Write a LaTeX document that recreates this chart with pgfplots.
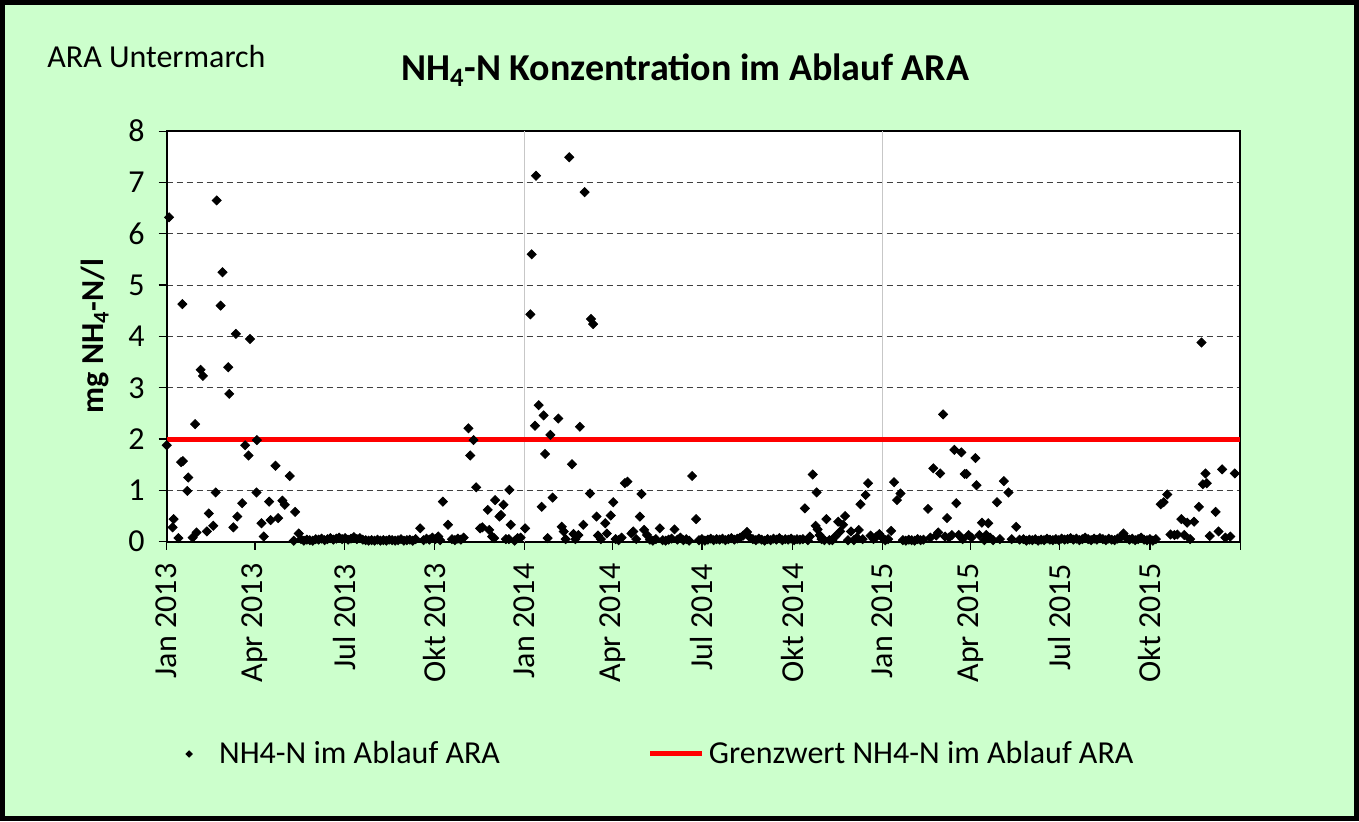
\documentclass[border=0pt]{standalone}
\usepackage{fontspec}
\setmainfont{Carlito}
\usepackage{pgfplots}
\pgfplotsset{compat=1.18}
\definecolor{bg}{HTML}{CCFFCC}
\pgfplotsset{redleg/.style={legend image code/.code={\draw[##1] (0pt,0pt) -- (26pt,0pt);}},
  scatleg/.style={legend image code/.code={\draw[##1, mark size=1.1pt] plot coordinates {(0pt,0pt)}; \path[draw=none] (0pt,0pt) -- (13pt,0pt);}}}
\pgfplotstableread{
day val
0 1.88
2.4 6.32
6 0.28
7 0.44
12 0.07
14.6 1.55
16 4.63
16.5 1.57
21 0.99
22 1.25
26.5 0.08
29 2.29
30.5 0.18
34.6 3.35
37 3.23
41 0.20
43 0.55
47.5 0.31
50 0.96
51 6.65
55 4.60
57 5.25
62.8 3.40
63.8 2.88
68 0.28
70.6 4.05
72 0.49
77 0.75
80 1.88
83.5 1.68
85 3.95
91.6 0.96
92 1.98
96.7 0.36
99 0.10
104.5 0.78
106 0.42
111 1.48
113.7 0.46
118 0.80
120.5 0.72
125.5 1.28
129.6 0.02
131 0.58
134.7 0.16
137 0.05
140 0.02
143 0.04
146 0.03
149 0.02
152 0.05
155 0.04
158 0.06
161 0.03
164 0.05
167 0.07
170 0.04
173 0.06
176 0.08
179 0.05
182 0.07
185 0.04
188 0.06
191 0.09
194 0.05
197 0.07
200 0.04
203 0.03
206 0.02
209 0.03
212 0.02
215 0.04
218 0.02
221 0.03
224 0.02
227 0.04
230 0.03
233 0.02
236 0.03
239 0.05
242 0.02
245 0.03
248 0.04
251 0.02
254 0.05
258.6 0.26
262 0.03
265 0.06
268 0.04
271 0.08
274 0.05
277 0.10
279 0.03
281.7 0.78
287 0.33
291 0.05
294 0.03
297 0.06
300 0.04
303 0.08
307.8 2.21
309.6 1.68
313 1.98
315.7 1.06
319.8 0.26
322 0.28
327.5 0.62
329 0.23
332 0.10
334 0.07
335 0.81
339.4 0.49
341 0.52
343.5 0.72
346 0.05
349 0.05
349.6 1.01
351 0.33
355 0.02
358 0.07
361 0.08
365.6 0.26
371 4.43
372.3 5.60
375.7 2.26
376.8 7.13
379.5 2.66
382.5 0.68
384.5 2.46
386 1.71
388.6 0.07
391.4 2.08
393.7 0.86
399.5 2.40
403 0.29
405 0.20
407 0.05
410.7 7.49
413.4 1.51
415 0.15
417 0.05
420 0.13
421.5 2.24
425 0.33
426.3 6.81
431.8 0.94
432.8 4.34
435 4.24
438.5 0.49
440 0.12
443 0.05
447.4 0.36
449 0.16
453 0.51
455.5 0.77
458 0.05
461 0.03
464 0.08
467.4 1.14
470 1.17
474 0.16
476 0.20
479 0.05
482.7 0.49
484.3 0.93
487 0.23
490 0.13
493 0.04
496 0.02
499 0.05
503 0.26
506 0.03
509 0.02
512 0.04
515 0.06
518 0.24
521 0.04
524 0.08
527 0.03
530 0.05
533 0.02
536 1.28
540 0.44
543 0.03
546 0.05
549 0.02
552 0.04
555 0.06
558 0.03
561 0.05
564 0.04
567 0.06
570 0.03
573 0.05
576 0.07
579 0.04
582 0.06
585 0.08
588 0.12
592 0.19
595 0.08
598 0.05
601 0.03
604 0.06
607 0.04
610 0.02
613 0.05
616 0.03
619 0.06
622 0.04
625 0.07
628 0.03
631 0.05
634 0.04
637 0.06
640 0.03
643 0.05
646 0.04
649 0.05
651 0.65
654 0.03
656 0.10
659 1.31
662 0.31
663 0.96
664 0.24
666 0.13
668 0.05
671 0.03
673 0.44
676 0.03
679 0.03
682 0.10
685 0.39
687 0.20
690 0.33
692 0.50
695 0.03
698 0.20
701 0.03
704 0.08
706 0.23
707.7 0.73
710 0.05
713 0.91
715.5 1.14
718 0.12
721 0.05
724 0.10
727 0.15
730 0.08
733 0.03
736 0.05
739 0.21
742 1.16
745 0.81
748.5 0.94
751 0.03
754 0.02
757 0.04
760 0.03
763 0.02
766 0.05
769 0.03
772 0.04
776.6 0.64
779 0.08
782 1.43
785 0.12
787 0.18
789 1.33
792 2.48
794 0.10
796 0.46
798 0.08
801 0.13
803.5 1.79
805.5 0.75
808 0.13
810.6 1.74
812 0.05
814 1.32
816 1.32
818 0.13
821 0.08
825 1.63
826 1.10
829 0.13
831.6 0.37
834 0.03
836 0.13
838 0.36
840 0.08
843 0.03
847 0.77
850 0.05
854 1.18
858.7 0.96
862 0.05
866.6 0.29
870 0.04
874 0.05
877 0.02
880 0.04
883 0.03
886 0.05
889 0.02
892 0.04
895 0.03
898 0.06
901 0.04
904 0.03
907 0.05
910 0.03
913 0.06
916 0.04
919 0.05
922 0.07
925 0.04
928 0.06
931 0.03
934 0.05
937 0.08
940 0.05
943 0.03
946 0.06
949 0.04
952 0.07
955 0.05
958 0.03
961 0.06
964 0.04
967 0.03
970 0.06
973 0.08
976 0.16
979 0.07
982 0.04
985 0.06
988 0.03
991 0.05
994 0.08
997 0.04
1000 0.03
1003 0.05
1006 0.02
1009 0.05
1014 0.73
1017 0.77
1020.7 0.92
1024 0.14
1028 0.13
1031 0.14
1035 0.44
1038 0.13
1041 0.37
1044 0.05
1048 0.39
1053 0.68
1055.6 3.88
1057 1.12
1059.7 1.33
1061 1.14
1064 0.11
1070 0.58
1073 0.20
1076.7 1.41
1080 0.08
1085 0.10
1089.6 1.33
}\nhdata
\begin{document}
\begin{tikzpicture}[x=1pt,y=1pt]
\fill[bg] (0,0) rectangle (679.5,410.5);
\draw[line width=2.5pt] (1.25,1.25) rectangle (678.25,409.25);
\begin{axis}[
  at={(83.35pt,139.65pt)}, anchor=south west,
  scale only axis, width=536.7pt, height=205.3pt,
  xmin=0, xmax=1095, ymin=0, ymax=8,
  clip=false,
  axis background/.style={fill=white},
  axis line style={black, line width=1pt},
  tick align=outside, major tick length=4pt,
  xtick pos=bottom, ytick pos=left,
  tick style={black, line width=0.6pt},
  xtick={0,90,181,273,365,455,546,638,730,820,911,1003,1095},
  xticklabels={Jan 2013,Apr 2013,Jul 2013,Okt 2013,Jan 2014,Apr 2014,Jul 2014,Okt 2014,Jan 2015,Apr 2015,Jul 2015,Okt 2015,},
  x tick label style={rotate=90, anchor=east, font=\fontsize{16}{16}\selectfont},
  xticklabel shift=3.5pt,
  ytick={0,1,...,8},
  y tick label style={font=\fontsize{16}{16}\selectfont},
  yticklabel shift=3.5pt,
  /pgf/number format/assume math mode=true,
  ymajorgrids,
  major grid style={densely dashed, black!75, line width=0.5pt},
  extra x ticks={365,730},
  extra x tick labels={},
  extra x tick style={grid=major, major grid style={solid, black!22, line width=0.8pt}},
  legend style={at={(0.012,-0.517)}, anchor=west, draw=none, fill=none,
    font=\fontsize{16}{16}\selectfont,
    /tikz/every even column/.append style={column sep=72pt}},
  legend columns=2,
  legend cell align=left,
]
\addplot[red, line width=2.5pt, no marks, forget plot] coordinates {(0,2) (1095,2)};
\addplot[only marks, mark=square*, mark size=1.6pt, black,
  mark options={rotate=45, fill=black}, scatleg] table[x=day, y=val] {\nhdata};
\addlegendentry{NH4-N im Ablauf ARA}
\addlegendimage{red, line width=2.5pt, redleg}
\addlegendentry{Grenzwert NH4-N im Ablauf ARA}
\end{axis}
\node[font=\bfseries\fontsize{19}{19}\selectfont] at (342.5,375.5) {NH\textsubscript{4}-N Konzentration im Ablauf ARA};
\node[anchor=west, font=\fontsize{16}{16}\selectfont, inner sep=0pt] at (23.5,382) {ARA Untermarch};
\node[rotate=90, font=\bfseries\fontsize{16}{16}\selectfont] at (47.5,242.5) {mg NH\textsubscript{4}-N/l};
\end{tikzpicture}
\end{document}
